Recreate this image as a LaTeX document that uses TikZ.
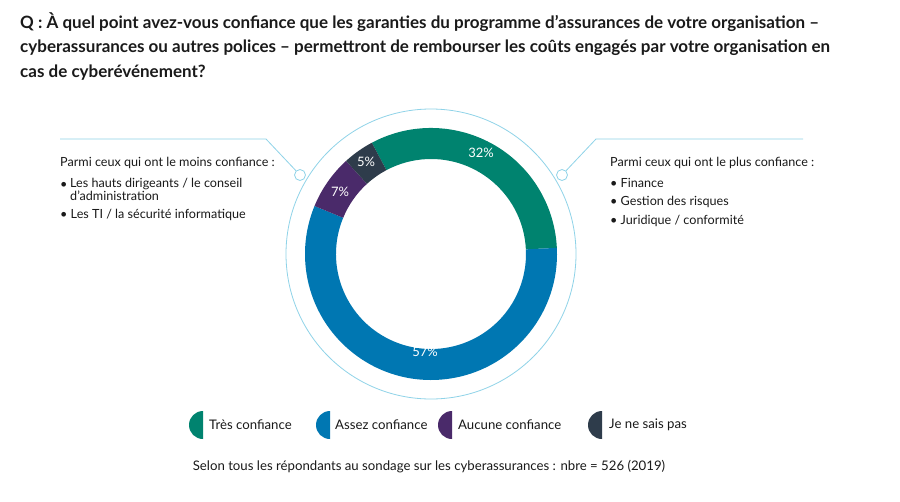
\documentclass[tikz,border=0pt]{standalone}
\usepackage{fontspec}
\setmainfont{Lato}
\usetikzlibrary{calc}
\definecolor{cgreen}{HTML}{00836F}
\definecolor{cblue}{HTML}{0077B2}
\definecolor{cpurple}{HTML}{4A2A6A}
\definecolor{cdark}{HTML}{2E3C4B}
\definecolor{cline}{HTML}{8FD3E8}
\definecolor{ctext}{HTML}{1A1A1A}
\begin{document}
\begin{tikzpicture}[x=1pt,y=-1pt,
  txt/.style={anchor=west,inner sep=0,font=\fontsize{12.6}{13}\selectfont,text=ctext},
  pct/.style={text=white,font=\fontsize{13}{14}\selectfont},
  title/.style={anchor=north west,inner sep=0,align=left,font=\bfseries\fontsize{17}{24.5}\selectfont,text=ctext},
  leg/.style={anchor=west,inner sep=0,font=\fontsize{13.2}{14}\selectfont,text=ctext},
  conn/.style={draw=cline,line width=0.8pt}]
\useasboundingbox (0,0) rectangle (900,501);
\fill[white] (0,0) rectangle (900,501);
\node[title] (t) at (20,12) {Q : À quel point avez-vous confiance que les garanties du programme d’assurances de votre organisation –\\cyberassurances ou autres polices – permettront de rembourser les coûts engagés par votre organisation en\\cas de cyberévénement?};
\coordinate (c) at (431,254);
\draw[cline,line width=0.8pt] (c) circle[radius=145];
\def\seg#1#2#3{\fill[#3] ($(c)+({-#1}:126)$) arc[start angle={-#1},end angle={-#2},radius=126] -- ($(c)+({-#2}:95)$) arc[start angle={-#2},end angle={-#1},radius=95] -- cycle;}
\seg{118}{2.8}{cgreen}
\seg{2.8}{-202.4}{cblue}
\seg{-202.4}{-227.6}{cpurple}
\seg{-227.6}{-242}{cdark}
\node[pct] (p32) at (481,153) {32\%};
\node[pct] (p57) at (425,352) {57\%};
\node[pct] (p7) at (340,192) {7\%};
\node[pct] (p5) at (366,162) {5\%};
\node[circle,draw=cline,fill=white,line width=0.8pt,minimum size=11pt,inner sep=0] (lc) at (300,175) {};
\node[circle,draw=cline,fill=white,line width=0.8pt,minimum size=11pt,inner sep=0] (rc) at (562,175) {};
\coordinate (l1) at (60,139); \coordinate (l2) at (266,139);
\coordinate (r1) at (803,139); \coordinate (r2) at (596,139);
\draw[conn] (l1) -- (l2) -- (lc);
\draw[conn] (r1) -- (r2) -- (rc);
\node[txt] (lt) at (60,163) {Parmi ceux qui ont le moins confiance :};
\node[txt] (lb1) at (60,185) {•};
\node[txt,align=left,anchor=north west] (lb1t) at (70,178) {Les hauts dirigeants / le conseil\\d’administration};
\node[txt] (lb2) at (60,215) {• Les TI / la sécurité informatique};
\node[txt] (rt) at (610,163) {Parmi ceux qui ont le plus confiance :};
\node[txt] (rb1) at (610,183) {• Finance};
\node[txt] (rb2) at (610,202) {• Gestion des risques};
\node[txt] (rb3) at (610,221) {• Juridique / conformité};
\def\half#1#2{\fill[#2] (#1,411) arc[start angle=-90,end angle=-270,radius=14] -- cycle;}
\half{203}{cgreen}\half{330}{cblue}\half{452}{cpurple}\half{602}{cdark}
\node[leg] (g1) at (209,425) {Très confiance};
\node[leg] (g2) at (335,425) {Assez confiance};
\node[leg] (g3) at (458,425) {Aucune confiance};
\node[leg] (g4) at (609,425) {Je ne sais pas};
\node[inner sep=0,font=\fontsize{13.2}{14}\selectfont,text=ctext] (f) at (429,467) {Selon tous les répondants au sondage sur les cyberassurances : nbre = 526 (2019)};
\end{tikzpicture}
\end{document}
